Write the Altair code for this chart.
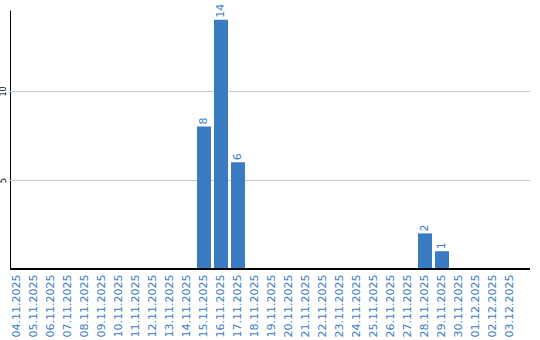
import altair as alt
import pandas as pd

dates = ["04.11.2025", "05.11.2025", "06.11.2025", "07.11.2025", "08.11.2025",
         "09.11.2025", "10.11.2025", "11.11.2025", "12.11.2025", "13.11.2025",
         "14.11.2025", "15.11.2025", "16.11.2025", "17.11.2025", "18.11.2025",
         "19.11.2025", "20.11.2025", "21.11.2025", "22.11.2025", "23.11.2025",
         "24.11.2025", "25.11.2025", "26.11.2025", "27.11.2025", "28.11.2025",
         "29.11.2025", "30.11.2025", "01.12.2025", "02.12.2025", "03.12.2025"]
counts = [0, 0, 0, 0, 0, 0, 0, 0, 0, 0,
          0, 8, 14, 6, 0, 0, 0, 0, 0, 0,
          0, 0, 0, 0, 2, 1, 0, 0, 0, 0]
grid_values = [5, 10]

df = pd.DataFrame({"date": dates, "count": counts})
df["label"] = df["count"].apply(lambda v: str(v) if v > 0 else "")

BLUE = "#3a7cc3"
FONT = "DejaVu Sans"

xscale = alt.Scale(paddingInner=0.176, paddingOuter=0, range=[0, 507])
yscale = alt.Scale(domain=[0, 14.55], nice=False)
x = alt.X("date:N", sort=dates, title=None, scale=xscale,
          axis=alt.Axis(labelAngle=-90, labelColor=BLUE, labelFontSize=11,
                        labelFont=FONT, ticks=False, labelPadding=5,
                        domain=False, grid=False))
y = alt.Y("count:Q", title=None, scale=yscale,
          axis=alt.Axis(values=grid_values, labelAngle=-90, labelAlign="center",
                        labelBaseline="bottom", labelFontSize=8, labelFont=FONT,
                        labelColor="black", ticks=False, labelPadding=3,
                        domainColor="black", domainWidth=1, grid=False))

grid = alt.Chart(pd.DataFrame({"v": grid_values})).mark_rule(
    color="#c8c8c8", strokeWidth=1, yOffset=0.5).encode(
    y=alt.Y("v:Q", scale=yscale), x=alt.value(0), x2=alt.value(520))
bars = alt.Chart(df).mark_bar(color=BLUE).encode(x=x, y=y)
text = alt.Chart(df).mark_text(angle=270, align="left", baseline="middle",
                               dx=2, color=BLUE, fontSize=11, font=FONT).encode(
    x=alt.X("date:N", sort=dates, scale=xscale), y="count:Q", text="label:N")
baseline = alt.Chart(pd.DataFrame({"v": [0]})).mark_rule(
    color="black", strokeWidth=2).encode(
    y=alt.Y("v:Q"), x=alt.value(0), x2=alt.value(520))

chart = (grid + bars + text + baseline).properties(
    width=520, height=259,
    background="white",
    autosize=alt.AutoSizeParams(type="none"),
    padding={"left": 10, "top": 10, "right": 10, "bottom": 71},
).configure_view(strokeWidth=0)

chart.save("out.html", embed_options={"renderer": "svg", "actions": False})
